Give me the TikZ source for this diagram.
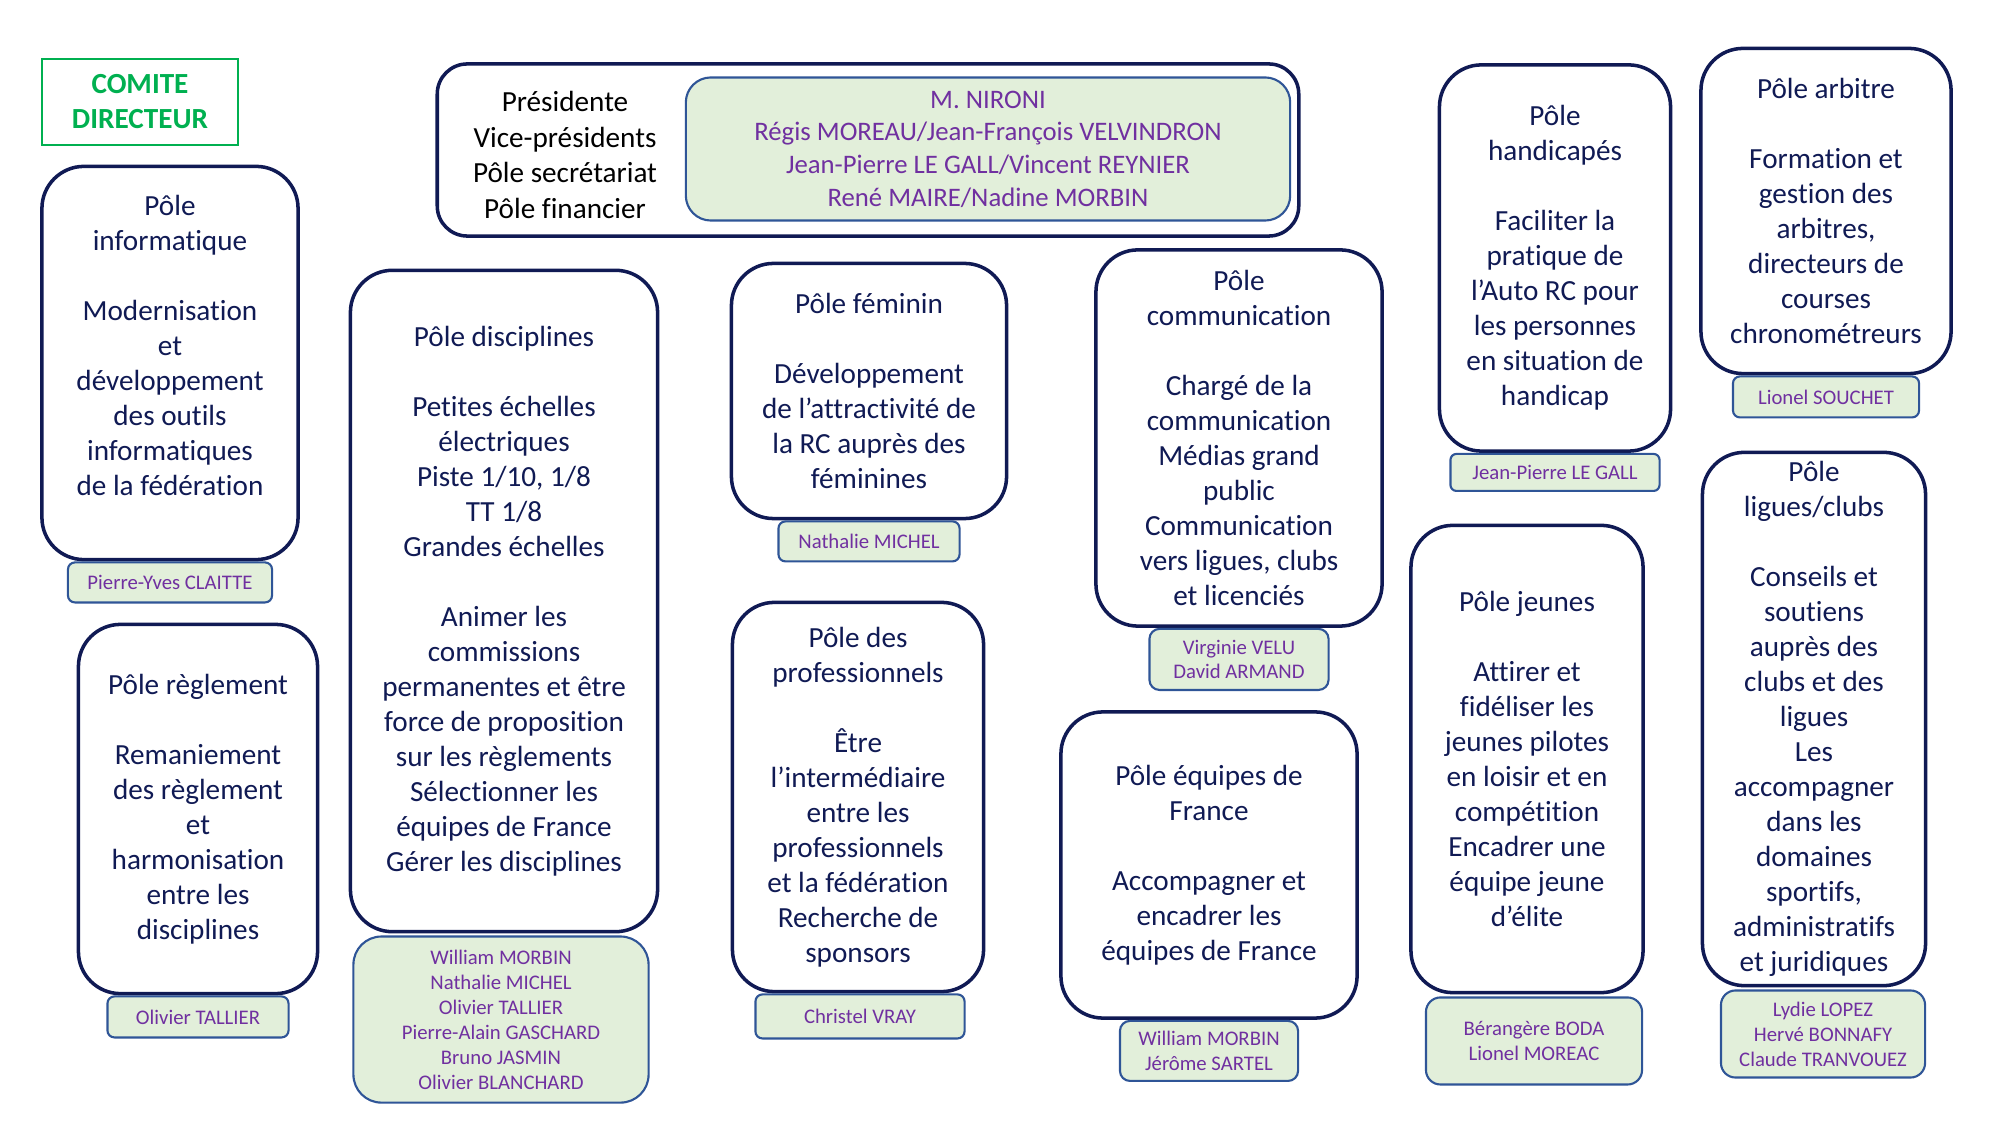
\documentclass[tikz,border=0pt]{standalone}
\usepackage{fontspec}
\setmainfont[Ligatures=NoCommon]{Carlito}
\usepackage{tikz}
\usetikzlibrary{positioning}
\definecolor{ffnavy}{RGB}{16,26,84}
\definecolor{ffblue}{RGB}{47,85,151}
\definecolor{ffvert}{RGB}{0,176,80}
\definecolor{fffond}{RGB}{226,239,218}
\definecolor{ffviolet}{RGB}{112,48,160}
\newcommand{\txtpole}{\fontsize{8.3}{9.95}\selectfont}
\newcommand{\txtnom}{\fontsize{5.9}{7.1}\selectfont}
\newcommand{\txtbureau}{\fontsize{7.6}{9.3}\selectfont}

\begin{document}
\begin{tikzpicture}[
  x=0.01cm, y=-0.01cm,
  pole/.style={draw=ffnavy, line width=1pt, rounded corners=0.42cm, fill=white, align=center, font=\txtpole, text=ffnavy, inner sep=0pt},
  nom/.style={draw=ffblue, line width=0.6pt, rounded corners=0.07cm, fill=fffond, align=center, font=\txtnom, text=ffviolet, inner sep=0pt},
  titre/.style={draw=ffvert, line width=0.5pt, align=center, font=\txtpole\bfseries, text=ffvert, inner sep=0pt}
]
  \path[use as bounding box] (0,0) rectangle (2000,1125);

  \node[titre, minimum width=1.96cm, minimum height=0.86cm] (comite) at (140,102) {COMITE\\DIRECTEUR};

  \node[pole, text=black, rounded corners=0.3cm, minimum width=8.61cm, minimum height=1.72cm] (bureau) at (868,150) {};
  \node[font=\fontsize{8.3}{10.1}\selectfont, align=center, inner sep=0pt] (fonctions) at (565,155) {Présidente\\Vice-présidents\\Pôle secrétariat\\Pôle financier};
  \node[nom, font=\txtbureau, rounded corners=0.25cm, minimum width=6.04cm, minimum height=1.43cm] (bureaunoms) at (988,149) {M. NIRONI\\Régis MOREAU/Jean-François VELVINDRON\\Jean-Pierre LE GALL/Vincent REYNIER\\René MAIRE/Nadine MORBIN};

  \node[pole, minimum width=2.56cm, minimum height=3.93cm] (info) at (170,363) {Pôle\\informatique\\[\baselineskip]Modernisation\\et\\développement\\des outils\\informatiques\\de la fédération\\\mbox{}};
  \node[pole, minimum width=2.39cm, minimum height=3.69cm] (regl) at (198,809) {Pôle règlement\\[\baselineskip]Remaniement\\des règlement\\et\\harmonisation\\entre les\\disciplines};
  \node[pole, minimum width=3.07cm, minimum height=6.61cm] (disc) at (504,601) {Pôle disciplines\\[\baselineskip]Petites échelles\\électriques\\Piste 1/10, 1/8\\TT 1/8\\Grandes échelles\\[\baselineskip]Animer les\\commissions\\permanentes et être\\force de proposition\\sur les règlements\\Sélectionner les\\équipes de France\\Gérer les disciplines};
  \node[pole, minimum width=2.75cm, minimum height=2.55cm] (fem) at (869,391) {Pôle féminin\\[\baselineskip]Développement\\de l’attractivité de\\la RC auprès des\\féminines};
  \node[pole, minimum width=2.51cm, minimum height=3.89cm] (prof) at (858,797) {Pôle des\\professionnels\\[\baselineskip]Être\\l’intermédiaire\\entre les\\professionnels\\et la fédération\\Recherche de\\sponsors};
  \node[pole, minimum width=2.86cm, minimum height=3.76cm] (comm) at (1239,438) {Pôle\\communication\\[\baselineskip]Chargé de la\\communication\\Médias grand\\public\\Communication\\vers ligues, clubs\\et licenciés};
  \node[pole, minimum width=2.96cm, minimum height=3.06cm] (equipes) at (1209,865) {Pôle équipes de\\France\\[\baselineskip]Accompagner et\\encadrer les\\équipes de France};
  \node[pole, minimum width=2.31cm, minimum height=3.86cm] (handi) at (1555,258) {Pôle\\handicapés\\[\baselineskip]Faciliter la\\pratique de\\l’Auto RC pour\\les personnes\\en situation de\\handicap};
  \node[pole, minimum width=2.50cm, minimum height=3.25cm] (arbitre) at (1826,211) {Pôle arbitre\\[\baselineskip]Formation et\\gestion des\\arbitres,\\directeurs de\\courses\\chronométreurs};
  \node[pole, minimum width=2.32cm, minimum height=4.67cm] (jeunes) at (1527,759) {Pôle jeunes\\[\baselineskip]Attirer et\\fidéliser les\\jeunes pilotes\\en loisir et en\\compétition\\Encadrer une\\équipe jeune\\d’élite};
  \node[pole, minimum width=2.23cm, minimum height=5.33cm] (ligues) at (1814,719) {Pôle\\ligues/clubs\\[\baselineskip]Conseils et\\soutiens\\auprès des\\clubs et des\\ligues\\Les\\accompagner\\dans les\\domaines\\sportifs,\\administratifs\\et juridiques};

  \node[nom, minimum width=2.04cm, minimum height=0.40cm, below=0pt of info] (infonom) {Pierre-Yves CLAITTE};
  \node[nom, minimum width=1.81cm, minimum height=0.41cm, below=0pt of regl] (reglnom) {Olivier TALLIER};
  \node[nom, rounded corners=0.28cm, minimum width=2.95cm, minimum height=1.66cm, below=0.02cm of disc, xshift=-0.03cm] (discnom) {William MORBIN\\Nathalie MICHEL\\Olivier TALLIER\\Pierre-Alain GASCHARD\\Bruno JASMIN\\Olivier BLANCHARD};
  \node[nom, minimum width=1.81cm, minimum height=0.40cm, below=0pt of fem] (femnom) {Nathalie MICHEL};
  \node[nom, minimum width=2.09cm, minimum height=0.44cm, below=0pt of prof, xshift=0.02cm] (profnom) {Christel VRAY};
  \node[nom, rounded corners=0.1cm, minimum width=1.79cm, minimum height=0.61cm, below=0pt of comm] (commnom) {Virginie VELU\\David ARMAND};
  \node[nom, rounded corners=0.1cm, minimum width=1.78cm, minimum height=0.60cm, below=0pt of equipes] (equipesnom) {William MORBIN\\Jérôme SARTEL};
  \node[nom, rounded corners=0.06cm, minimum width=2.09cm, minimum height=0.37cm, below=0pt of handi] (handinom) {Jean-Pierre LE GALL};
  \node[nom, minimum width=1.86cm, minimum height=0.41cm, below=0pt of arbitre] (arbitrenom) {Lionel SOUCHET};
  \node[nom, rounded corners=0.145cm, minimum width=2.16cm, minimum height=0.87cm, below=0.02cm of jeunes, xshift=0.07cm] (jeunesnom) {Bérangère BODA\\Lionel MOREAC};
  \node[nom, rounded corners=0.145cm, minimum width=2.04cm, minimum height=0.87cm, below=0.02cm of ligues, xshift=0.09cm] (liguesnom) {Lydie LOPEZ\\Hervé BONNAFY\\Claude TRANVOUEZ};
\end{tikzpicture}
\end{document}
